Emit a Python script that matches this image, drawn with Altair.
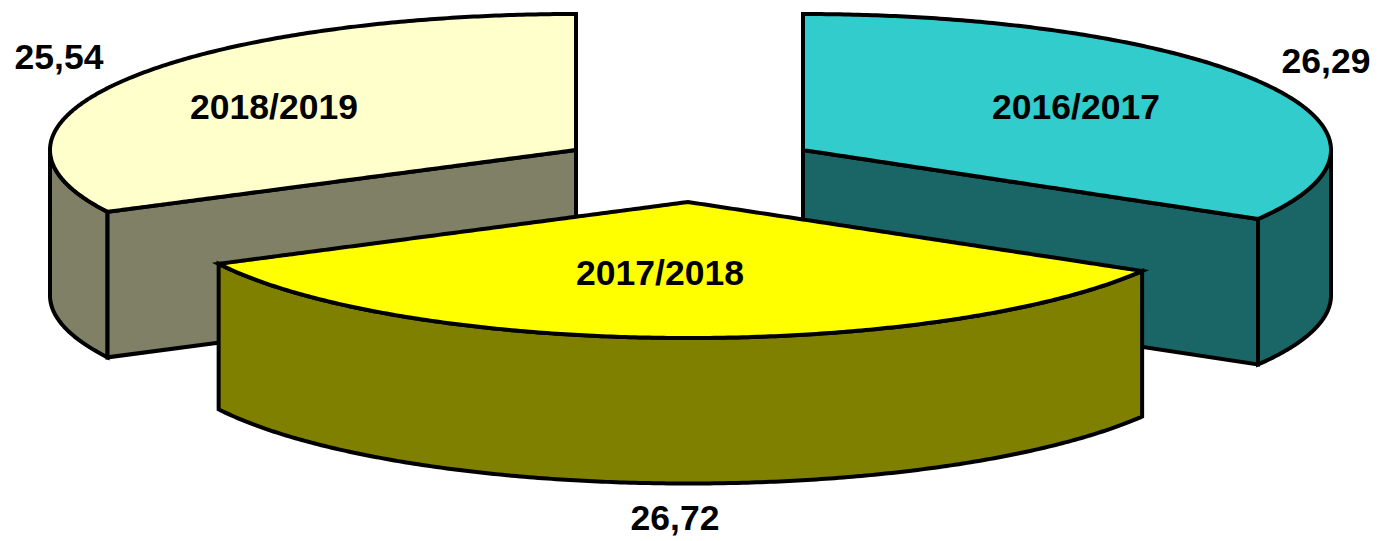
import numpy as np
import pandas as pd
import altair as alt

# ---- values ----
seasons = ["2016/2017", "2017/2018", "2018/2019"]
values = [26.29, 26.72, 25.54]
value_labels = ["26,29", "26,72", "25,54"]

# ---- exploded-pie geometry (not data) ----
RY, DEPTH = 136.0, 145.5
RX = {"2016/2017": 528.0, "2017/2018": 527.0, "2018/2019": 526.0}
APEX = {"2016/2017": (803.0, 150.0), "2017/2018": (688.0, 202.0), "2018/2019": (576.0, 150.0)}
TOP = {"2016/2017": "#33CCCC", "2017/2018": "#FFFF00", "2018/2019": "#FFFFCC"}
SIDE = {"2016/2017": "#1A6666", "2017/2018": "#808000", "2018/2019": "#808066"}
NAME_POS = {"2016/2017": (1076, 108), "2017/2018": (660, 274), "2018/2019": (274, 108)}
VALUE_POS = {"2016/2017": (1326, 62), "2017/2018": (675, 519), "2018/2019": (59, 58)}
X_DOM, Y_DOM = [8, 1370], [538, 8]
W, H = X_DOM[1] - X_DOM[0], Y_DOM[0] - Y_DOM[1]

# slice angles derive from the values (clockwise from 12 o'clock)
fractions = np.array(values) / sum(values)
ends = np.cumsum(fractions) * 2 * np.pi
starts = np.concatenate([[0.0], ends[:-1]])
ANGLES = dict(zip(seasons, zip(starts, ends)))


def pt(season, t):
    cx, cy = APEX[season]
    return cx + RX[season] * np.sin(t), cy - RY * np.cos(t)


def edge(season, x, t0, t1, up):
    """Upper (up=True) or lower edge of the slice's top face at each x."""
    cx, cy = APEX[season]
    s = np.clip((x - cx) / RX[season], -1, 1)
    c = np.sqrt(1 - s * s)
    out = cy - RY * c if up else cy + RY * c
    # a slice holding 6 o'clock has its straight cuts above; the others below
    cuts_on_upper = t0 < np.pi < t1
    if cuts_on_upper == up:
        for t in (t0, t1):
            ex, ey = pt(season, t)
            if abs(ex - cx) < 1e-6:
                continue
            lo, hi = sorted((cx, ex))
            m = (x >= lo - 1e-6) & (x <= hi + 1e-6)
            out[m] = cy + (x[m] - cx) * (ey - cy) / (ex - cx)
    return out


def xgrid(season, t0, t1, extra=()):
    cx, _ = APEX[season]
    ts = np.linspace(t0, t1, 241)
    xs = list(cx + RX[season] * np.sin(ts)) + list(extra)
    return np.unique(np.round(xs, 9))


def area(df, fill):
    return (
        alt.Chart(df)
        .mark_area(fill=fill, stroke="black", strokeWidth=4, strokeJoin="miter", orient="vertical")
        .encode(
            x=alt.X("x:Q", scale=alt.Scale(domain=X_DOM), axis=None),
            y=alt.Y("y:Q", scale=alt.Scale(domain=Y_DOM), axis=None),
            y2="y2:Q",
        )
    )


def top_face(season):
    t0, t1 = ANGLES[season]
    cx, _ = APEX[season]
    ex = [pt(season, t0)[0], pt(season, t1)[0], cx]
    xs = xgrid(season, t0, t1, ex)
    return area(
        pd.DataFrame({"x": xs, "y": edge(season, xs, t0, t1, True), "y2": edge(season, xs, t0, t1, False)}),
        TOP[season],
    )


def rim(season, a, b):
    xs = xgrid(season, a, b)
    cx, cy = APEX[season]
    c = np.sqrt(np.clip(1 - ((xs - cx) / RX[season]) ** 2, 0, 1))
    y = cy + RY * c
    return area(pd.DataFrame({"x": xs, "y": y, "y2": y + DEPTH}), SIDE[season])


def cut(season, t):
    cx, cy = APEX[season]
    ex, ey = pt(season, t)
    xs = np.array(sorted((cx, ex)))
    y = cy + (xs - cx) * (ey - cy) / (ex - cx)
    return area(pd.DataFrame({"x": xs, "y": y, "y2": y + DEPTH}), SIDE[season])


s16, s17, s18 = seasons
layers = [
    # back-left slice
    rim(s18, ANGLES[s18][0], 1.5 * np.pi),
    cut(s18, ANGLES[s18][0]),
    top_face(s18),
    # back-right slice
    rim(s16, 0.5 * np.pi, ANGLES[s16][1]),
    cut(s16, ANGLES[s16][1]),
    top_face(s16),
    # front slice
    rim(s17, *ANGLES[s17]),
    top_face(s17),
]

text_df = pd.DataFrame(
    [{"x": NAME_POS[s][0], "y": NAME_POS[s][1], "t": s} for s in seasons]
    + [{"x": VALUE_POS[s][0], "y": VALUE_POS[s][1], "t": l} for s, l in zip(seasons, value_labels)]
)
texts = (
    alt.Chart(text_df)
    .mark_text(font="Liberation Sans", fontWeight="bold", fontSize=35.5, color="black", align="center", baseline="middle")
    .encode(
        x=alt.X("x:Q", scale=alt.Scale(domain=X_DOM), axis=None),
        y=alt.Y("y:Q", scale=alt.Scale(domain=Y_DOM), axis=None),
        text="t:N",
    )
)

chart = (
    alt.layer(*layers, texts)
    .properties(width=W, height=H, padding=0, autosize=alt.AutoSizeParams(type="none"), background="white")
    .configure_view(stroke=None)
)
chart.save("out.html", embed_options={"renderer": "svg", "actions": False})
